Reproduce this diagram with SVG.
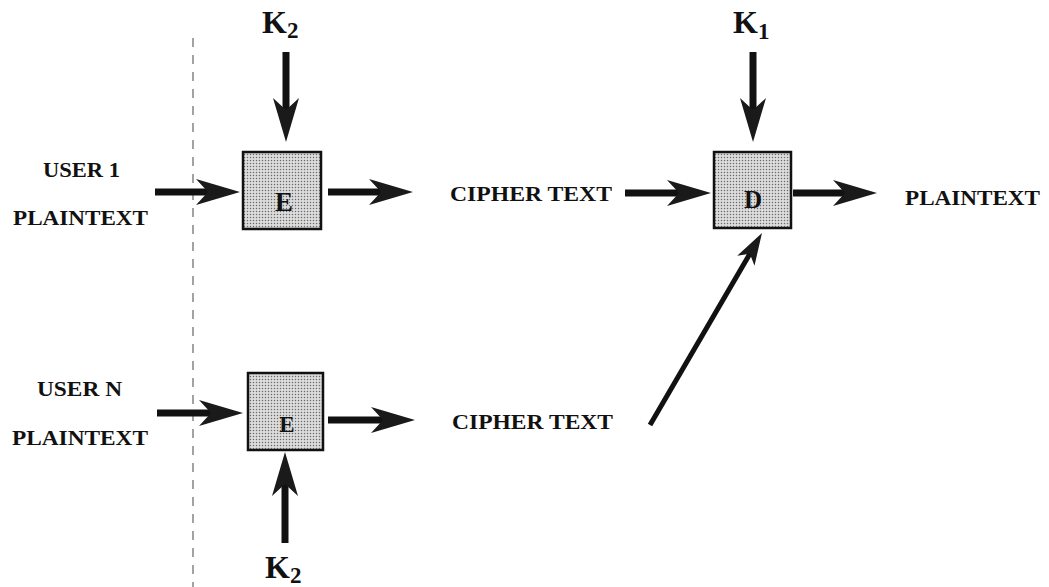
<svg xmlns="http://www.w3.org/2000/svg" width="1049" height="587" viewBox="0 0 1049 587">
<style>
.lbl{font-family:"Liberation Serif","DejaVu Serif",serif;font-weight:bold;font-size:22px;fill:#111}
.key{font-family:"Liberation Serif","DejaVu Serif",serif;font-weight:bold;font-size:32px;fill:#111}
.sub{font-size:23px}
.box{fill:url(#stip);stroke:#111;stroke-width:2.5}
.let{font-family:"Liberation Serif","DejaVu Serif",serif;font-weight:bold;fill:#111;text-anchor:middle}
.shaft{stroke:#111;stroke-width:7;fill:none;marker-end:url(#head)}
.thin{stroke:#111;stroke-width:5;fill:none;marker-end:url(#headS)}
.fold{stroke:#666;stroke-width:1.2;stroke-dasharray:9 8;fill:none}
</style>
<defs>
<pattern id="stip" width="3" height="3" patternUnits="userSpaceOnUse">
<rect width="3" height="3" fill="#dcdcdc"/>
<circle cx="1.5" cy="1.5" r="0.75" fill="#6a6a6a"/>
</pattern>
<marker id="head" viewBox="0 -14 44 28" markerWidth="44" markerHeight="28" refX="19" refY="0" orient="auto" markerUnits="userSpaceOnUse">
<path d="M0,-13 L44,0 L0,13 L12,0 Z" fill="#1a1a1a"/>
</marker>
<marker id="headS" viewBox="0 -11 32 22" markerWidth="32" markerHeight="22" refX="14" refY="0" orient="auto" markerUnits="userSpaceOnUse">
<path d="M0,-10 L32,0 L0,10 L8,0 Z" fill="#1a1a1a"/>
</marker>
</defs>
<rect width="1049" height="587" fill="#fff"/>
<line class="fold" x1="193" y1="38" x2="193" y2="587"/>
<g id="connectors">
<line class="shaft" x1="286" y1="52" x2="286" y2="117"/>
<line class="shaft" x1="155" y1="192" x2="215" y2="192"/>
<line class="shaft" x1="328" y1="192" x2="388" y2="192"/>
<line class="shaft" x1="625" y1="193" x2="686" y2="193"/>
<line class="shaft" x1="753" y1="52" x2="753" y2="117"/>
<line class="shaft" x1="793" y1="193" x2="852" y2="193"/>
<line class="shaft" x1="157" y1="413" x2="218" y2="413"/>
<line class="shaft" x1="328" y1="420" x2="390" y2="420"/>
<line class="shaft" x1="285" y1="543" x2="285" y2="477"/>
<line class="thin" x1="650" y1="425" x2="752.9" y2="248.6"/>
</g>
<g id="E1">
<rect class="box" x="243" y="152" width="78" height="77"/>
<text class="let" x="284" y="211" font-size="27">E</text>
</g>
<g id="D">
<rect class="box" x="714" y="152" width="77" height="76"/>
<text class="let" x="753" y="208" font-size="25">D</text>
</g>
<g id="E2">
<rect class="box" x="248" y="373" width="75" height="77"/>
<text class="let" x="287" y="432" font-size="23">E</text>
</g>
<g id="K2top"><text class="key" x="262" y="33">K<tspan class="sub" dy="5">2</tspan></text></g>
<g id="K1"><text class="key" x="733" y="33">K<tspan class="sub" dy="6">1</tspan></text></g>
<g id="K2bottom"><text class="key" x="265" y="578">K<tspan class="sub" dy="5">2</tspan></text></g>
<g id="user1">
<text class="lbl" x="43" y="177" textLength="77" lengthAdjust="spacingAndGlyphs">USER 1</text>
<text class="lbl" x="13" y="225" textLength="135" lengthAdjust="spacingAndGlyphs">PLAINTEXT</text>
</g>
<g id="userN">
<text class="lbl" x="37" y="396" textLength="85" lengthAdjust="spacingAndGlyphs">USER N</text>
<text class="lbl" x="12" y="445" textLength="136" lengthAdjust="spacingAndGlyphs">PLAINTEXT</text>
</g>
<g id="cipher1"><text class="lbl" x="450" y="201" textLength="162" lengthAdjust="spacingAndGlyphs">CIPHER TEXT</text></g>
<g id="cipherN"><text class="lbl" x="452" y="429" textLength="161" lengthAdjust="spacingAndGlyphs">CIPHER TEXT</text></g>
<g id="plainOut"><text class="lbl" x="905" y="205" textLength="135" lengthAdjust="spacingAndGlyphs">PLAINTEXT</text></g>
</svg>
